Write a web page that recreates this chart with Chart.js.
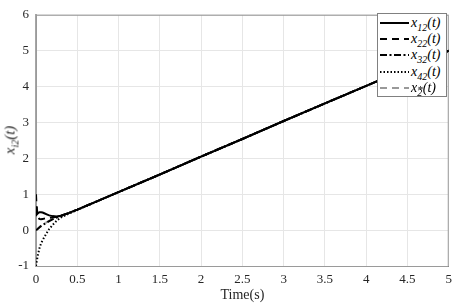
<!DOCTYPE html>
<html>
<head>
<meta charset="utf-8">
<script src="https://cdn.jsdelivr.net/npm/chart.js@4.4.1/dist/chart.umd.min.js"></script>
<style>
    body { margin: 0; background: #fff; }
    #wrap { position: relative; width: 458px; height: 305px; }
    .math { font-family: "Liberation Serif", serif; font-style: italic; font-weight: normal; white-space: nowrap; }
    #ylabel {
        position: absolute; left: 10px; top: 140px; font-size: 15px; color: #262626;
        transform: translate(-50%, -50%) rotate(-90deg);
    }
    #legend {
        position: absolute; left: 377px; top: 13px; width: 70px; height: 84px;
        border: 1px solid #808080; background: #fff; box-sizing: border-box;
        padding-top: 1px; font-size: 14px; color: #000;
    }
    .row { height: 16.2px; display: flex; align-items: center; }
    .row svg { margin-left: 2px; margin-right: 2px; flex: none; }
    sub { font-size: 10px; line-height: 0; }
    .ast { display: inline-block; font-size: 11px; line-height: 8px; position: relative; top: 1px; margin-left: -5px; }
</style>
</head>
<body>
<div id="wrap">
    <canvas id="stateChart"></canvas>
    <div id="ylabel" class="math">x<sub>i2</sub>(t)</div>
    <div id="legend" class="math"></div>
</div>
<script>
// sample times (s)
const time = [0, 0.005, 0.01, 0.02, 0.04, 0.06, 0.08, 0.1, 0.13, 0.16, 0.2, 0.25, 0.3, 0.4, 0.5, 1, 1.5, 2, 2.5, 3, 3.5, 4, 4.5, 5];

// states of the agents
const x12 = [0.65, 0.42, 0.43, 0.46, 0.5, 0.5, 0.49, 0.47, 0.44, 0.41, 0.39, 0.38, 0.40, 0.48, 0.57, 1.06, 1.55, 2.05, 2.54, 3.04, 3.53, 4.02, 4.51, 5.0];
const x22 = [1.0, 0.75, 0.6, 0.42, 0.31, 0.3, 0.31, 0.32, 0.33, 0.34, 0.35, 0.37, 0.40, 0.48, 0.57, 1.06, 1.55, 2.05, 2.54, 3.04, 3.53, 4.02, 4.51, 5.0];
const x32 = [0, 0.005, 0.01, 0.03, 0.07, 0.11, 0.14, 0.17, 0.21, 0.25, 0.30, 0.35, 0.39, 0.48, 0.57, 1.06, 1.55, 2.05, 2.54, 3.04, 3.53, 4.02, 4.51, 5.0];
const x42 = [-1, -0.92, -0.85, -0.73, -0.52, -0.38, -0.28, -0.2, -0.08, 0.03, 0.14, 0.26, 0.35, 0.46, 0.56, 1.06, 1.55, 2.05, 2.54, 3.04, 3.53, 4.02, 4.51, 5.0];
const x2ref = [0, 0.01, 0.02, 0.04, 0.08, 0.12, 0.15, 0.18, 0.22, 0.26, 0.31, 0.36, 0.40, 0.48, 0.57, 1.06, 1.55, 2.05, 2.54, 3.04, 3.53, 4.02, 4.51, 5.0];

const xTicks = [0, 0.5, 1, 1.5, 2, 2.5, 3, 3.5, 4, 4.5, 5];
const yTicks = [-1, 0, 1, 2, 3, 4, 5, 6];

const series = [
    { label: 'x<sub>12</sub>(t)', data: x12, color: '#000', dash: [] },
    { label: 'x<sub>22</sub>(t)', data: x22, color: '#000', dash: [7, 5] },
    { label: 'x<sub>32</sub>(t)', data: x32, color: '#000', dash: [7, 2.5, 2, 2.5] },
    { label: 'x<sub>42</sub>(t)', data: x42, color: '#000', dash: [1.5, 2] },
    { label: 'x<sub>2</sub><span class="ast">*</span>(t)', data: x2ref, color: '#999', dash: [7, 5] }
];

const font = { family: '"Liberation Serif", serif', size: 13 };

// box around the plot area (matlab style)
const boxPlugin = {
    id: 'box',
    beforeDatasetsDraw(chart) {
        const a = chart.chartArea;
        const c = chart.ctx;
        c.save();
        c.strokeStyle = '#9a9a9a';
        c.lineWidth = 1;
        c.strokeRect(a.left + 0.5, a.top + 0.5, a.right - a.left - 1, a.bottom - a.top);
        c.restore();
    }
};

const ctx = document.getElementById('stateChart').getContext('2d');
const stateChart = new Chart(ctx, {
    type: 'line',
    data: {
        datasets: series.map(s => ({
            data: time.map((t, i) => ({ x: t, y: s.data[i] })),
            borderColor: s.color,
            borderDash: s.dash,
            borderWidth: 2,
            pointRadius: 0,
            fill: false,
            tension: 0
        }))
    },
    options: {
        responsive: true,
        maintainAspectRatio: false,
        animation: false,
        layout: { padding: { top: 5, right: 3, left: 0, bottom: 0 } },
        plugins: { legend: { display: false }, tooltip: { enabled: false } },
        scales: {
            x: {
                type: 'linear', min: 0, max: 5,
                afterBuildTicks: s => { s.ticks = xTicks.map(v => ({ value: v })); },
                afterFit: s => { s.height = 39; },
                grid: { color: '#e6e6e6', drawTicks: false },
                border: { color: '#555', width: 1 },
                ticks: { font: font, color: '#262626', padding: 6, maxRotation: 0, callback: v => String(v) },
                title: { display: true, text: 'Time(s)', font: { family: font.family, size: 14 }, color: '#262626', padding: { top: 0, bottom: 1 } }
            },
            y: {
                type: 'linear', min: -1, max: 6,
                afterBuildTicks: s => { s.ticks = yTicks.map(v => ({ value: v })); },
                afterFit: s => { s.width = 36; },
                grid: { color: '#e6e6e6', drawTicks: false },
                border: { color: '#a6a6a6', width: 2 },
                ticks: { font: font, color: '#262626', padding: 7 }
            }
        }
    },
    plugins: [boxPlugin]
});

// legend drawn as html so subscripts stay real text
const legend = document.getElementById('legend');
series.forEach(s => {
    const row = document.createElement('div');
    row.className = 'row';
    row.innerHTML = '<svg width="29" height="8"><line x1="0" y1="4" x2="29" y2="4" stroke="' + s.color +
        '" stroke-width="2" stroke-dasharray="' + (s.dash.length ? s.dash.join(' ') : 'none') + '"/></svg><span>' + s.label + '</span>';
    legend.appendChild(row);
});
</script>
</body>
</html>
